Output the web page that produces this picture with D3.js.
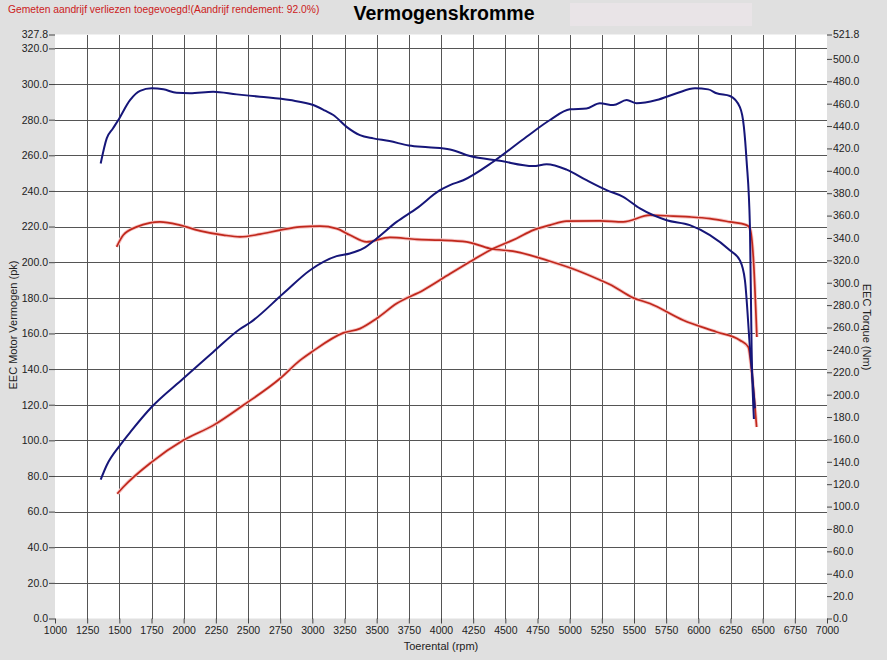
<!DOCTYPE html>
<html>
<head>
<meta charset="utf-8">
<script src="https://cdn.jsdelivr.net/npm/d3@7/dist/d3.min.js"></script>
<style>
  html, body { margin: 0; padding: 0; background: #e0e0e0; }
  svg { display: block; font-family: Arial, "Liberation Sans", sans-serif; }
</style>
</head>
<body>
<svg id="chart" width="887" height="660"></svg>
<script>
// ---- data ----
const titleText = "Vermogenskromme";
const noteText = "Gemeten aandrijf verliezen toegevoegd!(Aandrijf rendement: 92.0%)";
const xTicks = [1000,1250,1500,1750,2000,2250,2500,2750,3000,3250,3500,3750,4000,4250,4500,4750,5000,5250,5500,5750,6000,6250,6500,6750,7000];
const leftTicks = [0,20,40,60,80,100,120,140,160,180,200,220,240,260,280,300,320,327.8];
const rightTicks = [0,20,40,60,80,100,120,140,160,180,200,220,240,260,280,300,320,340,360,380,400,420,440,460,480,500,521.8];

// Blue power (pk) [rpm, pk]
const bluePower = [[1355,77.9],[1402,86],[1505,97.2],[1596,105.6],[1751,118.7],[1997,134.7],[2230,149.6],[2438,162.5],[2515,166],[2774,182.4],[2982,195.5],[3189,203.4],[3292,204.9],[3396,207.7],[3500,213.3],[3655,222.6],[3811,230.2],[3992,240.4],[4070,243.3],[4173,246],[4406,256.4],[4665,270.4],[4847,279.8],[5002,285.8],[5131,286.3],[5235,289.2],[5339,288.2],[5443,291],[5520,289.2],[5676,291],[5831,294.8],[5974,297.6],[6077,297],[6142,294.8],[6246,293.3],[6323,287],[6354,276],[6375,257],[6401,220],[6414,152],[6432,112]];
// Blue torque (Nm) [rpm, Nm]
const blueTorque = [[1355,406.5],[1402,429.0],[1450,437.8],[1492,445.4],[1583,463.2],[1661,471.5],[1751,473.7],[1842,472.8],[1945,469.7],[2049,469.3],[2230,470.7],[2412,468.3],[2593,466.2],[2826,463.2],[3007,458.8],[3100,453.7],[3163,449.9],[3266,439.3],[3370,431.9],[3474,429.0],[3600,426.6],[3750,422.6],[3900,421.0],[4070,419.1],[4225,413.2],[4458,408.9],[4717,404.2],[4821,405.9],[4976,401.1],[5131,391.6],[5287,382.7],[5416,376.8],[5546,366.4],[5754,355.9],[5934,351.5],[6090,342.6],[6245,329.0],[6323,320.0],[6362,302.4],[6401,242.0],[6440,187.8]];
// Red power (pk) [rpm, pk]
const redPower = [[1484,70],[1531,73.8],[1751,87.8],[1997,100],[2230,108.4],[2463,119.7],[2749,134.7],[2904,144.9],[2995,149.6],[3241,160.3],[3370,162.7],[3500,168.4],[3655,176.8],[3862,184.3],[4070,193.5],[4225,200.2],[4380,206.7],[4587,213.3],[4717,218],[4847,220.8],[4976,223],[5235,223.2],[5416,222.6],[5624,226.4],[5805,225.8],[5935,225.4],[6090,224.5],[6246,222.6],[6375,220.8],[6401,219],[6427,203],[6455,158]];
// Red torque (Nm) [rpm, Nm]
const redTorque = [[1479,332.1],[1531,342.6],[1635,349.9],[1738,353.5],[1816,354.3],[1971,351.5],[2127,346.4],[2308,342.6],[2438,341.0],[2593,343.4],[2749,347.0],[2904,349.9],[3059,350.5],[3189,348.4],[3292,342.6],[3422,336.5],[3603,340.5],[3811,338.7],[3992,338.1],[4199,336.5],[4380,330.6],[4587,327.6],[4847,319.2],[5054,311.2],[5235,302.5],[5313,298.5],[5494,286.5],[5624,281.4],[5883,266.5],[6142,256.0],[6323,248.6],[6388,242.6],[6414,221.3],[6453,171.1]];

// ---- layout ----
const svg = d3.select("#chart");
const L = 55, R = 827, T = 34.5, B = 618.5;

const x = d3.scaleLinear().domain([1000, 7000]).range([L, R]);
const yL = d3.scaleLinear().domain([0, 327.8]).range([B, T]);
const yR = d3.scaleLinear().domain([0, 521.8]).range([B, T]);

svg.append("rect").attr("width", 887).attr("height", 660).attr("fill", "#e0e0e0");
svg.append("rect").attr("x", 570).attr("y", 3).attr("width", 182).attr("height", 23).attr("fill", "#e9e4e7");
svg.append("rect").attr("x", L).attr("y", T).attr("width", R - L).attr("height", B - T).attr("fill", "#ffffff");

// grid
const grid = svg.append("g").attr("stroke", "#555").attr("stroke-width", 1).attr("shape-rendering", "crispEdges");
xTicks.filter(v => v > 1000 && v < 7000).forEach(v => {
  grid.append("line").attr("x1", Math.round(x(v)) + 0.5).attr("x2", Math.round(x(v)) + 0.5).attr("y1", T).attr("y2", B);
});
leftTicks.filter(v => v > 0 && v < 327.8).forEach(v => {
  grid.append("line").attr("x1", L).attr("x2", R).attr("y1", Math.round(yL(v)) + 0.5).attr("y2", Math.round(yL(v)) + 0.5);
});

// axes
const axStyle = g => {
  g.select(".domain").remove();
  g.selectAll("text").attr("fill", "#222").style("font-size", "10.5px").style("font-family", "Arial, 'Liberation Sans', sans-serif");
  g.selectAll("line").attr("stroke", "#444");
};
svg.append("g").attr("transform", `translate(${L},0)`)
  .call(d3.axisLeft(yL).tickValues(leftTicks).tickFormat(d3.format(".1f")).tickSize(6).tickPadding(1))
  .call(axStyle);
svg.append("g").attr("transform", `translate(${R},0)`)
  .call(d3.axisRight(yR).tickValues(rightTicks).tickFormat(d3.format(".1f")).tickSize(5).tickPadding(1))
  .call(axStyle);
svg.append("g").attr("transform", `translate(0,${B})`)
  .call(d3.axisBottom(x).tickValues(xTicks).tickFormat(d3.format("d")).tickSize(5).tickPadding(3))
  .call(axStyle);

// axis titles
svg.append("text").attr("transform", "translate(17,325) rotate(-90)").attr("text-anchor", "middle")
  .style("font-size", "11px").attr("fill", "#222").text("EEC Motor Vermogen (pk)");
svg.append("text").attr("transform", "translate(863,327) rotate(90)").attr("text-anchor", "middle")
  .style("font-size", "11px").attr("fill", "#222").text("EEC Torque (Nm)");
svg.append("text").attr("x", 441).attr("y", 650).attr("text-anchor", "middle")
  .style("font-size", "11px").attr("fill", "#222").text("Toerental (rpm)");

// title and note
svg.append("text").attr("x", 444).attr("y", 20).attr("text-anchor", "middle")
  .style("font-size", "19.5px").style("font-weight", "bold").attr("fill", "#000").text(titleText);
svg.append("text").attr("x", 8).attr("y", 13)
  .style("font-size", "10.3px").attr("fill", "#cc2020").text(noteText);

// lines
const plot = svg.append("g");
const lineL = d3.line().x(d => x(d[0])).y(d => yL(d[1])).curve(d3.curveMonotoneX);
const lineR = d3.line().x(d => x(d[0])).y(d => yR(d[1])).curve(d3.curveMonotoneX);

const series = [
  {data: redPower, gen: lineL, color: "#c0281c", halo: true},
  {data: redTorque, gen: lineR, color: "#c0281c", halo: true},
  {data: bluePower, gen: lineL, color: "#161679", halo: false},
  {data: blueTorque, gen: lineR, color: "#161679", halo: false}
];
series.filter(s => s.halo).forEach(s => {
  plot.append("path").attr("d", s.gen(s.data)).attr("fill", "none")
    .attr("stroke", "#f7c6c6").attr("stroke-width", 3.5).attr("stroke-linejoin", "round");
});
series.forEach(s => {
  plot.append("path").attr("d", s.gen(s.data)).attr("fill", "none")
    .attr("stroke", s.color).attr("stroke-width", s.halo ? 1.7 : 2).attr("stroke-linejoin", "round");
});
</script>
</body>
</html>
